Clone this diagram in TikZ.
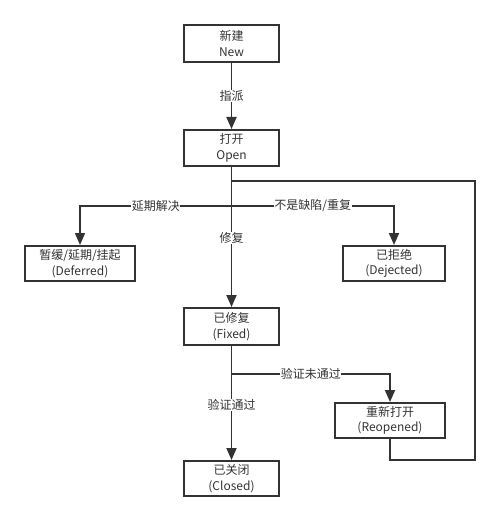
\documentclass[tikz,border=0pt]{standalone}
\usepackage{fontspec}
\setmainfont{Noto Sans CJK SC}
\usetikzlibrary{arrows.meta,positioning}
\definecolor{ln}{HTML}{333333}
\begin{document}
\begin{tikzpicture}[x=1pt,y=-1pt,
  box/.style={draw=ln,line width=2pt,inner sep=0pt,align=center,text=ln,font=\fontsize{12}{15.5}\selectfont},
  conn/.style={draw=ln,line width=1.8pt},
  arr/.style={conn,-{Triangle[width=10pt,length=12pt]}},
  lbl/.style={fill=white,text=ln,inner sep=0.5pt,font=\fontsize{12}{14}\selectfont}]
\useasboundingbox (0,0) rectangle (501,521);
\node[box,minimum width=95pt,minimum height=37pt] (new) at (231.5,43.5) {新建\\New};
\node[box,minimum width=95pt,minimum height=36pt] (open) at (231.5,148) {打开\\Open};
\node[box,minimum width=110pt,minimum height=35pt] (deferred) at (80,263.5) {暂缓/延期/挂起\\(Deferred)};
\node[box,minimum width=102pt,minimum height=35pt] (dejected) at (394,263.5) {已拒绝\\(Dejected)};
\node[box,minimum width=95pt,minimum height=37pt] (fixed) at (231.5,326.5) {已修复\\(Fixed)};
\node[box,minimum width=110pt,minimum height=35pt] (reopened) at (390,420.5) {重新打开\\(Reopened)};
\node[box,minimum width=95pt,minimum height=35pt] (closed) at (231.5,478.5) {已关闭\\(Closed)};
\coordinate (jloop) at (231.5,181);
\coordinate (jbr) at (231.5,206);
\coordinate (jfx) at (231.5,374);
\coordinate (cr) at (475,181);
\coordinate (cb) at (475,460);
% loop from reopened back to open
\draw[conn] (reopened.south) -- (reopened.south |- cb) -- (cb) -- (cr) -- (jloop);
\draw[arr] (new) -- node[lbl] {指派} (open);
\draw[arr] (open) -- node[lbl,pos=0.51] {修复} (fixed);
\draw[arr] (jbr) -- node[lbl] {延期解决} (jbr -| deferred) -- (deferred);
\draw[arr] (jbr) -- node[lbl] {不是缺陷/重复} (jbr -| dejected) -- (dejected);
\draw[arr] (fixed) -- node[lbl,pos=0.52] {验证通过} (closed);
\draw[arr] (jfx) -- node[lbl] {验证未通过} (jfx -| reopened) -- (reopened);
\end{tikzpicture}
\end{document}
